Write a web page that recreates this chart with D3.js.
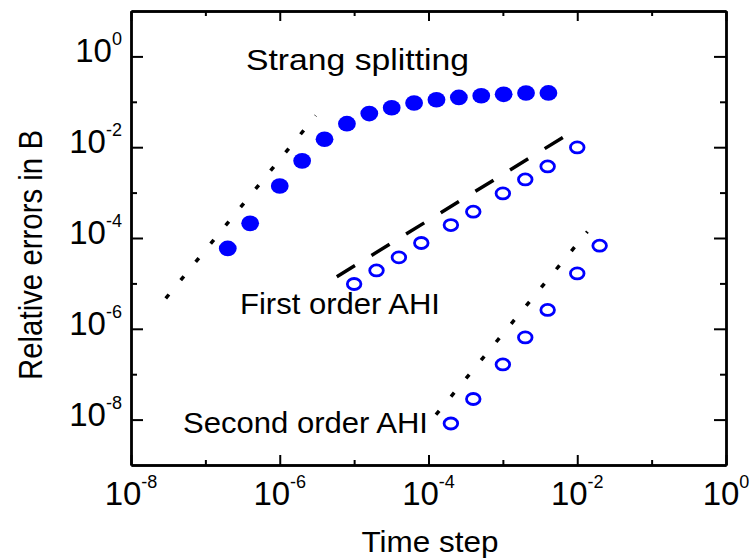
<!DOCTYPE html>
<html>
<head>
<meta charset="utf-8">
<script src="https://cdn.jsdelivr.net/npm/d3@7"></script>
<style>
    body { margin: 0; background: #fff; }
    text { font-family: Arial, "Liberation Sans", sans-serif; fill: #000; }
</style>
</head>
<body>
<div id="chart"></div>
<script>

// values
const strangStep = [2e-7, 4e-7, 1e-6, 2e-6, 4e-6, 8e-6, 1.6e-5, 3.2e-5, 6.4e-5, 1.28e-4, 2.56e-4, 5.12e-4, 1.024e-3, 2.048e-3, 4.096e-3];
const strangErr  = [5.9e-5, 2.1e-4, 1.4e-3, 5.0e-3, 1.5e-2, 3.3e-2, 5.5e-2, 7.4e-2, 9.4e-2, 0.111, 0.125, 0.136, 0.146, 0.156, 0.157];

const firstStep = [1e-5, 2e-5, 4e-5, 8e-5, 2e-4, 4e-4, 1e-3, 2e-3, 4e-3, 1e-2];
const firstErr  = [9.7e-6, 1.93e-5, 3.74e-5, 7.76e-5, 1.93e-4, 3.8e-4, 9.6e-4, 1.95e-3, 3.77e-3, 9.9e-3];

const secondStep = [2e-4, 4e-4, 1e-3, 2e-3, 4e-3, 1e-2, 2e-2];
const secondErr  = [8.2e-9, 2.84e-8, 1.64e-7, 6.46e-7, 2.6e-6, 1.66e-5, 6.76e-5];

// reference slope lines [step, error] end points
const slopeStrang = [[2.93e-8, 4.68e-6], [3.05e-6, 4.94e-2]];
const slopeFirst  = [[5.85e-6, 1.4e-5], [6.4e-3, 1.64e-2]];
const slopeSecond = [[1.26e-4, 1.28e-8], [1.37e-2, 1.38e-4]];

const xMajor = [-8, -6, -4, -2, 0];
const xMinor = [-7, -5, -3, -1];
const yMajor = [0, -2, -4, -6, -8];
const yMinor = [-1, -3, -5, -7];

const labels = [
    {text: 'Strang splitting', x: 246, y: 70, len: 223},
    {text: 'First order AHI', x: 240, y: 314, len: 200},
    {text: 'Second order AHI', x: 183, y: 433, len: 245}
];

let width = 754, height = 560;
let plot = {left: 131, right: 726, top: 11, bottom: 465};

let svg = d3.select('#chart').append('svg')
    .attr('width', width)
    .attr('height', height);

let x = d3.scaleLog().domain([1e-8, 1e0]).range([plot.left, plot.right]);
let y = d3.scaleLog().domain([1e-9, 1e1]).range([plot.bottom, plot.top]);

// axes on all four sides, ticks pointing inward
function addAxis(axisFn, scale, vals, size, transform) {
    let g = svg.append('g')
        .attr('transform', transform)
        .call(axisFn(scale).tickValues(vals.map(e => Math.pow(10, e)))
            .tickSizeInner(-size).tickSizeOuter(0).tickFormat(''));
    g.selectAll('line').attr('stroke', '#000').attr('stroke-width', 2);
    g.select('.domain').attr('stroke', '#000').attr('stroke-width', 2.4);
    return g;
}

addAxis(d3.axisBottom, x, xMajor, 10, `translate(0,${plot.bottom})`);
addAxis(d3.axisBottom, x, xMinor, 5, `translate(0,${plot.bottom})`);
addAxis(d3.axisTop, x, xMajor, 10, `translate(0,${plot.top})`);
addAxis(d3.axisTop, x, xMinor, 5, `translate(0,${plot.top})`);
addAxis(d3.axisLeft, y, yMajor, 12, `translate(${plot.left},0)`);
addAxis(d3.axisLeft, y, yMinor, 6, `translate(${plot.left},0)`);
addAxis(d3.axisRight, y, yMajor, 12, `translate(${plot.right},0)`);
addAxis(d3.axisRight, y, yMinor, 6, `translate(${plot.right},0)`);

// tick labels as 10 with superscript exponent
function powerLabel(sel) {
    sel.append('tspan').style('font-size', '33px').text('10');
    sel.append('tspan').style('font-size', '18px').attr('dy', -17).text(e => e);
}

svg.append('g').selectAll('text')
    .data(xMajor)
    .enter().append('text')
    .attr('x', e => x(Math.pow(10, e)))
    .attr('y', 505)
    .attr('text-anchor', 'middle')
    .call(powerLabel);

svg.append('g').selectAll('text')
    .data(yMajor)
    .enter().append('text')
    .attr('x', 122)
    .attr('y', e => y(Math.pow(10, e)) + 6)
    .attr('text-anchor', 'end')
    .call(powerLabel);

// axis titles
svg.append('text')
    .attr('x', 430)
    .attr('y', 552)
    .attr('text-anchor', 'middle')
    .style('font-size', '30px')
    .attr('textLength', 137)
    .attr('lengthAdjust', 'spacingAndGlyphs')
    .text('Time step');

svg.append('text')
    .attr('transform', 'translate(42,255) rotate(-90)')
    .attr('text-anchor', 'middle')
    .style('font-size', '34px')
    .attr('textLength', 250)
    .attr('lengthAdjust', 'spacingAndGlyphs')
    .text('Relative errors in B');

// reference slope lines
let line = d3.line().x(d => x(d[0])).y(d => y(d[1]));

svg.append('path')
    .attr('d', line(slopeStrang))
    .attr('fill', 'none')
    .attr('stroke', '#000')
    .attr('stroke-width', 3.5)
    .attr('stroke-dasharray', '5,18.6');

svg.append('path')
    .attr('d', line(slopeSecond))
    .attr('fill', 'none')
    .attr('stroke', '#000')
    .attr('stroke-width', 3.5)
    .attr('stroke-dasharray', '5,18.6');

svg.append('path')
    .attr('d', line(slopeFirst))
    .attr('fill', 'none')
    .attr('stroke', '#000')
    .attr('stroke-width', 3.5)
    .attr('stroke-dasharray', '21.3,19.4');

// data markers
svg.append('g').selectAll('ellipse')
    .data(d3.zip(strangStep, strangErr))
    .enter().append('ellipse')
    .attr('cx', d => x(d[0]))
    .attr('cy', d => y(d[1]))
    .attr('rx', 8.9)
    .attr('ry', 7.8)
    .attr('fill', '#0000ff');

[d3.zip(firstStep, firstErr), d3.zip(secondStep, secondErr)].forEach(function(series) {
    svg.append('g').selectAll('ellipse')
        .data(series)
        .enter().append('ellipse')
        .attr('cx', d => x(d[0]))
        .attr('cy', d => y(d[1]))
        .attr('rx', 6.8)
        .attr('ry', 5.5)
        .attr('fill', 'none')
        .attr('stroke', '#0000ff')
        .attr('stroke-width', 2.8);
});

// curve labels
svg.append('g').selectAll('text')
    .data(labels)
    .enter().append('text')
    .attr('x', d => d.x)
    .attr('y', d => d.y)
    .style('font-size', '29px')
    .attr('textLength', d => d.len)
    .attr('lengthAdjust', 'spacingAndGlyphs')
    .text(d => d.text);

</script>
</body>
</html>
